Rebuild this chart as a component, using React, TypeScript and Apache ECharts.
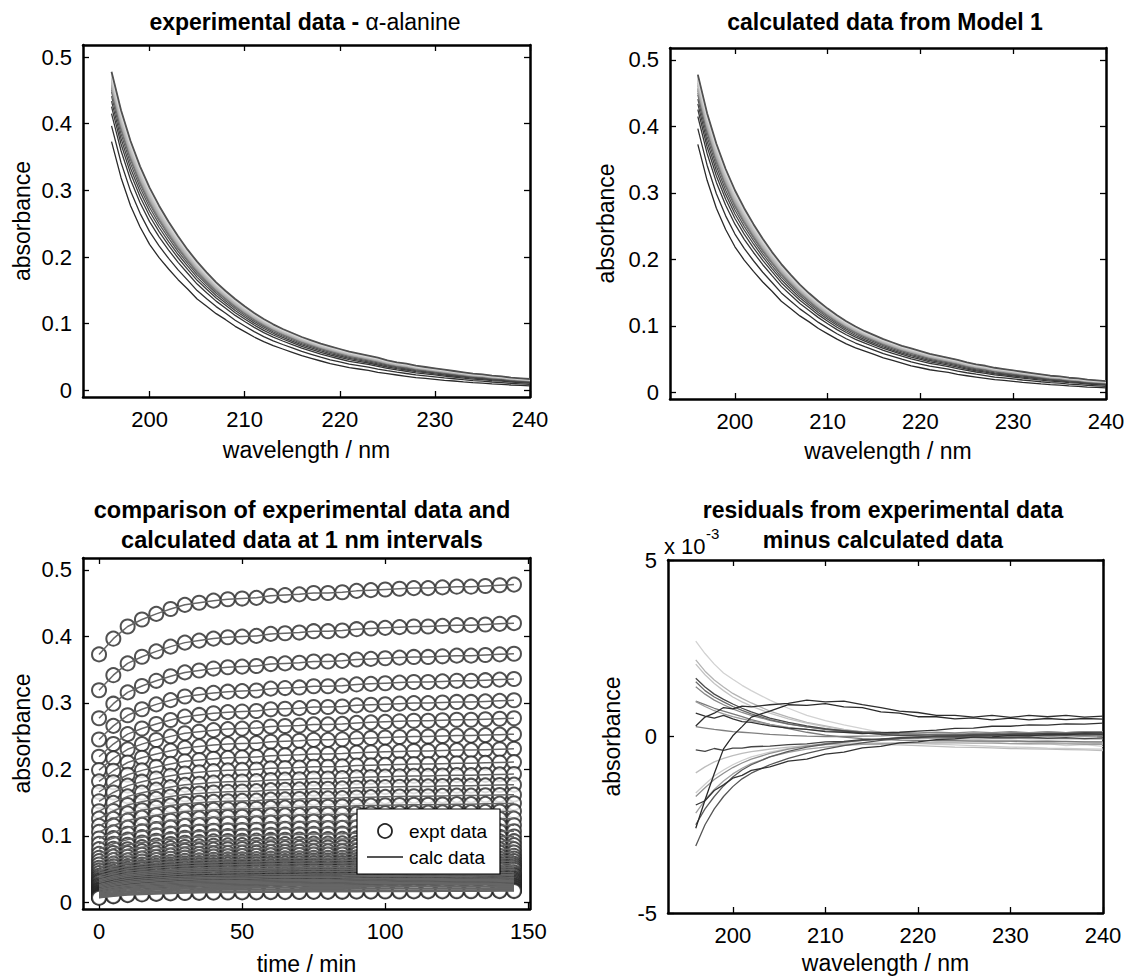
import React, { useEffect, useRef } from "react";
import * as echarts from "echarts";

// ---------- data ----------
const WAVELENGTHS = [196, 197, 198, 199, 200, 201, 202, 203, 204, 205, 206, 207, 208, 209, 210, 211, 212, 213, 214, 215, 216, 217, 218, 219, 220, 221, 222, 223, 224, 225, 226, 227, 228, 229, 230, 231, 232, 233, 234, 235, 236, 237, 238, 239, 240];
// absorbance at the end of the run (t = 145 min)
const ABS_FINAL = [0.478, 0.42, 0.374, 0.336, 0.304, 0.277, 0.253, 0.231, 0.211, 0.193, 0.177, 0.162, 0.149, 0.137, 0.126, 0.116, 0.107, 0.099, 0.092, 0.086, 0.08, 0.075, 0.07, 0.066, 0.062, 0.058, 0.055, 0.052, 0.049, 0.045, 0.042, 0.04, 0.037, 0.035, 0.033, 0.031, 0.029, 0.027, 0.025, 0.024, 0.022, 0.021, 0.019, 0.018, 0.017];
// absorbance at the start of the run (t = 0 min)
const ABS_INITIAL = [0.373, 0.319, 0.277, 0.245, 0.219, 0.199, 0.182, 0.166, 0.152, 0.137, 0.126, 0.115, 0.106, 0.096, 0.088, 0.08, 0.073, 0.067, 0.062, 0.057, 0.052, 0.048, 0.044, 0.04, 0.037, 0.034, 0.032, 0.03, 0.027, 0.025, 0.023, 0.021, 0.019, 0.018, 0.0165, 0.015, 0.014, 0.0127, 0.0115, 0.0108, 0.0097, 0.009, 0.008, 0.0074, 0.0068];
const TIMES = [0, 5, 10, 15, 20, 25, 30, 35, 40, 45, 50, 55, 60, 65, 70, 75, 80, 85, 90, 95, 100, 105, 110, 115, 120, 125, 130, 135, 140, 145];
// extent of reaction at each time (0 = start, 1 = end)
const PROGRESS = [0, 0.225, 0.4, 0.5, 0.58, 0.65, 0.71, 0.74, 0.77, 0.79, 0.8, 0.81, 0.84, 0.85, 0.86, 0.88, 0.88, 0.89, 0.91, 0.92, 0.93, 0.94, 0.95, 0.95, 0.96, 0.97, 0.97, 0.98, 0.99, 1.0];

// residuals (units of 1e-3)
const RES_WL = [196, 197, 198, 199, 200, 201, 202, 204, 206, 208, 210, 212, 214, 216, 218, 220, 222, 224, 226, 228, 230, 232, 234, 236, 238, 240];
const RES_A = [2.7, 2.35, 2.05, 1.8, 1.62, 1.45, 1.3, 1.03, 0.8, 0.6, 0.45, 0.33, 0.22, 0.12, 0.05, 0.0, -0.06, -0.1, -0.13, -0.16, -0.2, -0.22, -0.2, -0.26, -0.23, -0.28];
const RES_B = [2.17, 1.85, 1.6, 1.4, 1.22, 1.08, 0.95, 0.72, 0.55, 0.4, 0.3, 0.2, 0.12, 0.06, 0.02, -0.02, -0.05, -0.09, -0.1, -0.13, -0.14, -0.16, -0.17, -0.19, -0.18, -0.21];
const RES_C = [2.05, 1.75, 1.5, 1.3, 1.12, 0.98, 0.86, 0.66, 0.5, 0.38, 0.28, 0.19, 0.12, 0.07, 0.03, 0.0, -0.03, -0.06, -0.08, -0.1, -0.1, -0.13, -0.12, -0.15, -0.15, -0.17];
const RES_D = [1.65, 1.4, 1.2, 1.05, 0.92, 0.8, 0.7, 0.52, 0.4, 0.3, 0.22, 0.16, 0.1, 0.06, 0.03, 0.02, 0.0, -0.02, -0.02, -0.03, -0.03, -0.02, -0.05, -0.03, -0.06, -0.04];
const RES_E = [1.55, 1.3, 1.12, 0.98, 0.85, 0.74, 0.64, 0.48, 0.36, 0.27, 0.2, 0.16, 0.12, 0.1, 0.08, 0.07, 0.05, 0.07, 0.04, 0.07, 0.05, 0.07, 0.04, 0.07, 0.05, 0.06];
const RES_F = [1.41, 1.2, 1.03, 0.9, 0.78, 0.68, 0.6, 0.46, 0.35, 0.27, 0.21, 0.17, 0.14, 0.12, 0.11, 0.1, 0.12, 0.1, 0.13, 0.11, 0.14, 0.11, 0.13, 0.11, 0.14, 0.12];
const RES_G = [0.99, 0.85, 0.73, 0.64, 0.56, 0.5, 0.44, 0.34, 0.26, 0.2, 0.16, 0.13, 0.1, 0.08, 0.06, 0.05, 0.03, 0.04, 0.02, 0.03, 0.01, 0.02, 0.0, 0.02, 0.0, 0.01];
const RES_H = [0.66, 0.58, 0.52, 0.6, 0.5, 0.42, 0.4, 0.3, 0.24, 0.2, 0.14, 0.12, 0.08, 0.1, 0.12, 0.15, 0.18, 0.23, 0.24, 0.29, 0.29, 0.33, 0.32, 0.36, 0.35, 0.38];
const RES_I = [0.3, 0.55, 0.66, 0.82, 0.78, 0.86, 0.84, 0.9, 0.94, 1.03, 0.98, 1.0, 0.9, 0.82, 0.72, 0.68, 0.6, 0.6, 0.55, 0.6, 0.54, 0.6, 0.56, 0.6, 0.55, 0.58];
const RES_J = [-2.6, -1.8, -1.05, -0.35, 0.02, 0.28, 0.55, 0.72, 0.9, 0.88, 0.93, 0.84, 0.82, 0.7, 0.66, 0.56, 0.56, 0.5, 0.53, 0.47, 0.52, 0.47, 0.51, 0.48, 0.51, 0.49];
const RES_K = [0.28, 0.24, 0.2, 0.17, 0.14, 0.12, 0.1, 0.06, 0.03, 0.01, 0.0, 0.0, 0.01, 0.02, 0.04, 0.04, 0.07, 0.06, 0.09, 0.08, 0.11, 0.1, 0.13, 0.11, 0.14, 0.14];
const RES_L = [-0.38, -0.42, -0.34, -0.39, -0.33, -0.33, -0.29, -0.27, -0.23, -0.21, -0.15, -0.14, -0.09, -0.08, -0.03, -0.03, 0.01, 0.01, 0.04, 0.04, 0.07, 0.06, 0.09, 0.08, 0.11, 0.1];
const RES_M = [-3.1, -2.5, -2.05, -1.7, -1.42, -1.2, -1.04, -0.8, -0.62, -0.48, -0.36, -0.26, -0.18, -0.11, -0.06, -0.02, 0.01, 0.03, 0.05, 0.06, 0.07, 0.08, 0.08, 0.09, 0.09, 0.1];
const RES_N = [-1.94, -1.82, -1.53, -1.37, -1.18, -1.1, -0.96, -0.86, -0.7, -0.64, -0.5, -0.44, -0.32, -0.28, -0.18, -0.15, -0.09, -0.07, -0.02, -0.01, 0.03, 0.02, 0.06, 0.05, 0.08, 0.07];
const RES_O = [-1.6, -1.35, -1.12, -0.95, -0.8, -0.68, -0.58, -0.44, -0.34, -0.27, -0.22, -0.19, -0.18, -0.18, -0.19, -0.2, -0.22, -0.24, -0.26, -0.28, -0.3, -0.31, -0.33, -0.34, -0.35, -0.36];
const RES_P = [-1.03, -0.86, -0.72, -0.62, -0.54, -0.48, -0.43, -0.36, -0.3, -0.26, -0.23, -0.22, -0.22, -0.23, -0.24, -0.26, -0.28, -0.3, -0.31, -0.32, -0.34, -0.35, -0.36, -0.37, -0.38, -0.4];
const RES_Q = [-2.17, -1.8, -1.5, -1.26, -1.06, -0.9, -0.77, -0.58, -0.45, -0.36, -0.3, -0.25, -0.22, -0.2, -0.19, -0.18, -0.18, -0.18, -0.19, -0.19, -0.2, -0.2, -0.21, -0.21, -0.22, -0.22];
const RES_R = [-1.7, -1.45, -1.22, -1.04, -0.88, -0.75, -0.64, -0.48, -0.36, -0.27, -0.2, -0.15, -0.11, -0.08, -0.06, -0.05, -0.04, -0.04, -0.04, -0.05, -0.05, -0.06, -0.06, -0.06, -0.07, -0.07];
const RES_S = [-2.5, -2.05, -1.7, -1.4, -1.15, -0.95, -0.8, -0.58, -0.42, -0.3, -0.22, -0.16, -0.11, -0.07, -0.04, -0.02, -0.01, 0.0, 0.01, 0.02, 0.02, 0.03, 0.03, 0.04, 0.04, 0.05];
const RES_T = [1.0, 0.9, 0.8, 0.72, 0.64, 0.56, 0.48, 0.34, 0.22, 0.12, 0.04, -0.02, -0.06, -0.08, -0.1, -0.11, -0.12, -0.12, -0.13, -0.13, -0.13, -0.14, -0.14, -0.14, -0.15, -0.15];

const RESIDUALS = [RES_A, RES_B, RES_C, RES_O, RES_P, RES_Q, RES_R, RES_T, RES_G, RES_K, RES_F, RES_E, RES_D, RES_S, RES_M, RES_N, RES_L, RES_H, RES_I, RES_J];
const RESIDUAL_COLORS = ["#d2d2d2", "#b4b4b4", "#c4c4c4", "#cdcdcd", "#bdbdbd", "#a0a0a0", "#909090", "#7a7a7a", "#9a9a9a", "#808080", "#888888", "#6a6a6a", "#4a4a4a", "#5a5a5a", "#555555", "#333333", "#444444", "#333333", "#2e2e2e", "#2a2a2a"];

const SPECTRUM_COLORS = ["#2a2a2a", "#303030", "#363636", "#3c3c3c", "#444444", "#555555", "#666666", "#777777", "#888888", "#969696", "#a2a2a2", "#aaaaaa", "#b0b0b0", "#b4b4b4", "#b8b8b8", "#bcbcbc", "#c0c0c0", "#c4c4c4", "#c8c8c8", "#cbcbcb", "#cecece", "#d0d0d0", "#d2d2d2", "#d4d4d4", "#d6d6d6", "#d8d8d8", "#dadada", "#dcdcdc", "#dedede", "#505050"];

const WL_TICKS = [200, 210, 220, 230, 240];
const ABS_TICKS = [0, 0.1, 0.2, 0.3, 0.4, 0.5];
const TIME_TICKS = [0, 50, 100, 150];
const RES_TICKS = [-5, 0, 5];

const FONT = "'Liberation Sans', Arial, Helvetica, sans-serif";

function absorbance(wi: number, ti: number) {
  return ABS_INITIAL[wi] + (ABS_FINAL[wi] - ABS_INITIAL[wi]) * PROGRESS[ti];
}

function axesFor(grid: number, xr: [number, number], xt: number[], yr: [number, number], yt: number[], xName: string, yName: string, xNameGap: number, yNameGap: number) {
  const line = { show: true, onZero: false, lineStyle: { color: "#000", width: 2.5 } };
  const tick = (vals: number[]) => ({ show: true, inside: true, length: 6, customValues: vals, lineStyle: { color: "#000", width: 1.3 } });
  const xs = [
    {
      type: "value", gridIndex: grid, position: "bottom", min: xr[0], max: xr[1],
      axisLine: line, axisTick: tick(xt), splitLine: { show: false },
      axisLabel: { customValues: xt, margin: 11, fontSize: 22, color: "#000", fontFamily: FONT },
      name: xName, nameLocation: "middle", nameGap: xNameGap, nameMoveOverlap: false,
      nameTextStyle: { fontSize: 23, color: "#000", fontFamily: FONT },
    },
    {
      type: "value", gridIndex: grid, position: "top", min: xr[0], max: xr[1],
      axisLine: line, axisTick: tick(xt), splitLine: { show: false }, axisLabel: { show: false },
    },
  ];
  const ys = [
    {
      type: "value", gridIndex: grid, position: "left", min: yr[0], max: yr[1],
      axisLine: line, axisTick: tick(yt), splitLine: { show: false },
      axisLabel: { customValues: yt, margin: 11, fontSize: 22, color: "#000", fontFamily: FONT },
      name: yName, nameLocation: "middle", nameGap: yNameGap, nameMoveOverlap: false,
      nameTextStyle: { fontSize: 23, color: "#000", fontFamily: FONT },
    },
    {
      type: "value", gridIndex: grid, position: "right", min: yr[0], max: yr[1],
      axisLine: line, axisTick: tick(yt), splitLine: { show: false }, axisLabel: { show: false },
    },
  ];
  return { xs, ys };
}

function buildOption() {
  const grids = [
    { left: 83, top: 45, width: 447, height: 352 },
    { left: 670, top: 48, width: 436, height: 351 },
    { left: 83, top: 558, width: 447, height: 351 },
    { left: 668, top: 560, width: 435, height: 353 },
  ].map((g) => ({ ...g, show: false, containLabel: false, outerBoundsMode: "none" }));

  const absRange: [number, number] = [-0.01, 0.518];
  const a0 = axesFor(0, [193, 240], WL_TICKS, absRange, ABS_TICKS, "wavelength / nm", "absorbance", 41, 50);
  const a1 = axesFor(1, [193, 240], WL_TICKS, absRange, ABS_TICKS, "wavelength / nm", "absorbance", 40, 53);
  const a2 = axesFor(2, [-5.6, 150.6], TIME_TICKS, absRange, ABS_TICKS, "time / min", "absorbance", 43, 50);
  const a3 = axesFor(3, [193, 240], WL_TICKS, [-5, 5], RES_TICKS, "wavelength / nm", "absorbance", 38, 45);
  const xAxis = [...a0.xs, ...a1.xs, ...a2.xs, ...a3.xs];
  const yAxis = [...a0.ys, ...a1.ys, ...a2.ys, ...a3.ys];

  const series: any[] = [];
  // top-left: experimental spectra; top-right: calculated spectra
  [0, 1].forEach((p) => {
    TIMES.forEach((t, ti) => {
      series.push({
        type: "line", name: (p === 0 ? "expt " : "calc ") + t + " min",
        xAxisIndex: p * 2, yAxisIndex: p * 2,
        data: WAVELENGTHS.map((w, wi) => [w, absorbance(wi, ti)]),
        symbol: "none", lineStyle: { color: SPECTRUM_COLORS[ti], width: ti === TIMES.length - 1 ? 1.8 : 1.3 },
        silent: true,
      });
    });
  });
  // bottom-left: kinetic traces at each wavelength
  WAVELENGTHS.forEach((w, wi) => {
    series.push({
      type: "scatter", name: "expt data", xAxisIndex: 4, yAxisIndex: 4,
      data: TIMES.map((t, ti) => [t, absorbance(wi, ti)]),
      symbol: "emptyCircle", symbolSize: 14,
      itemStyle: { color: "#262626", borderColor: "#262626", borderWidth: 1.6 },
      silent: true, z: 2,
    });
  });
  WAVELENGTHS.forEach((w, wi) => {
    series.push({
      type: "line", name: "calc data", xAxisIndex: 4, yAxisIndex: 4,
      data: TIMES.map((t, ti) => [t, absorbance(wi, ti)]),
      symbol: "none",
      lineStyle: { color: "#666666", width: 1.5 },
      silent: true, z: 3,
    });
  });
  // bottom-right: residuals
  RESIDUALS.forEach((r, ri) => {
    series.push({
      type: "line", name: "residual " + (ri + 1), xAxisIndex: 6, yAxisIndex: 6,
      data: RES_WL.map((w, k) => [w, r[k]]),
      symbol: "none", lineStyle: { color: RESIDUAL_COLORS[ri], width: 1.3 },
      silent: true,
    });
  });

  const titleBase = { textAlign: "center", padding: 0 };
  const title = [
    {
      ...titleBase, left: 305, top: 10,
      text: "{b|experimental data - }{n|α-alanine}",
      textStyle: {
        rich: {
          b: { fontWeight: "bold", fontSize: 23, fontFamily: FONT, color: "#000" },
          n: { fontWeight: "normal", fontSize: 23, fontFamily: FONT, color: "#000" },
        },
      },
    },
    {
      ...titleBase, left: 885, top: 10, text: "calculated data from Model 1",
      textStyle: { fontWeight: "bold", fontSize: 23, fontFamily: FONT, color: "#000" },
    },
    {
      ...titleBase, left: 302, top: 495, text: "comparison of experimental data and\ncalculated data at 1 nm intervals",
      textStyle: { fontWeight: "bold", fontSize: 23.5, lineHeight: 30, fontFamily: FONT, color: "#000" },
    },
    {
      ...titleBase, left: 883, top: 495, text: "residuals from experimental data\nminus calculated data",
      textStyle: { fontWeight: "bold", fontSize: 23, lineHeight: 30, fontFamily: FONT, color: "#000" },
    },
  ];

  const txt = (text: string, x: number, y: number, size: number) => ({
    type: "text", x, y, z: 101,
    style: { text, fontSize: size, fontFamily: FONT, fill: "#000", align: "left", verticalAlign: "middle" },
  });

  return {
    animation: false,
    backgroundColor: "#fff",
    title,
    grid: grids,
    xAxis,
    yAxis,
    series,
    graphic: [
      // legend box of the bottom-left panel
      { type: "rect", z: 100, shape: { x: 357, y: 809, width: 143, height: 65 }, style: { fill: "#fff", stroke: "#000", lineWidth: 1.2 } },
      { type: "circle", z: 101, shape: { cx: 385, cy: 831, r: 7 }, style: { fill: "#fff", stroke: "#262626", lineWidth: 1.8 } },
      { type: "line", z: 101, shape: { x1: 367, y1: 857, x2: 403, y2: 857 }, style: { stroke: "#555", lineWidth: 2 } },
      txt("expt data", 409, 831, 19),
      txt("calc data", 409, 857, 19),
      // axis multiplier of the bottom-right panel
      txt("x 10", 664, 546, 22),
      txt("-3", 706, 533, 15),
    ],
  };
}

export default function App() {
  const ref = useRef<HTMLDivElement>(null);
  useEffect(() => {
    if (!ref.current) return;
    const chart = echarts.init(ref.current, undefined, { renderer: "svg" });
    chart.setOption(buildOption() as any);
    return () => chart.dispose();
  }, []);
  return (
    <div
      ref={ref}
      style={{ position: "fixed", left: 0, top: 0, width: 1136, height: 976, background: "#fff" }}
    />
  );
}
